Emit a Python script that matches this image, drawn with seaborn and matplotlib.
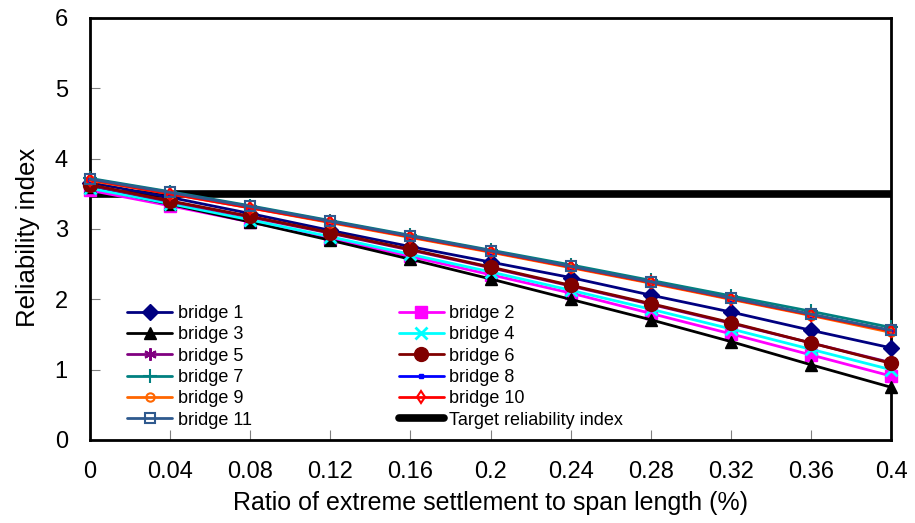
import matplotlib
matplotlib.use("Agg")
import matplotlib.pyplot as plt
import seaborn as sns
import pandas as pd

# ---- data ----
ratio = [0, 0.04, 0.08, 0.12, 0.16, 0.2, 0.24, 0.28, 0.32, 0.36, 0.4]
bridge_1 = [3.66, 3.45, 3.22, 2.98, 2.75, 2.53, 2.31, 2.06, 1.82, 1.56, 1.31]
bridge_2 = [3.55, 3.33, 3.10, 2.86, 2.61, 2.35, 2.09, 1.80, 1.51, 1.21, 0.91]
bridge_3 = [3.60, 3.35, 3.10, 2.84, 2.57, 2.29, 2.00, 1.71, 1.40, 1.07, 0.75]
bridge_4 = [3.58, 3.36, 3.13, 2.89, 2.64, 2.39, 2.13, 1.86, 1.58, 1.29, 1.00]
bridge_5 = [3.62, 3.39, 3.17, 2.94, 2.70, 2.45, 2.19, 1.93, 1.66, 1.38, 1.10]
bridge_6 = [3.63, 3.40, 3.18, 2.95, 2.71, 2.46, 2.20, 1.94, 1.67, 1.38, 1.09]
bridge_7 = [3.72, 3.53, 3.33, 3.12, 2.91, 2.70, 2.49, 2.27, 2.05, 1.83, 1.60]
bridge_8 = [3.70, 3.51, 3.31, 3.10, 2.89, 2.68, 2.46, 2.24, 2.01, 1.78, 1.55]
bridge_9 = [3.69, 3.50, 3.30, 3.09, 2.88, 2.67, 2.45, 2.23, 2.00, 1.77, 1.53]
bridge_10 = [3.70, 3.50, 3.30, 3.10, 2.89, 2.68, 2.46, 2.24, 2.01, 1.78, 1.55]
bridge_11 = [3.71, 3.52, 3.32, 3.11, 2.90, 2.69, 2.47, 2.25, 2.02, 1.79, 1.56]
target_index = 3.5

series_names = [f"bridge {i}" for i in range(1, 12)]
series_values = [bridge_1, bridge_2, bridge_3, bridge_4, bridge_5, bridge_6,
                 bridge_7, bridge_8, bridge_9, bridge_10, bridge_11]
x_ticks = [0, 0.04, 0.08, 0.12, 0.16, 0.2, 0.24, 0.28, 0.32, 0.36, 0.4]
x_tick_labels = ["0", "0.04", "0.08", "0.12", "0.16", "0.2", "0.24", "0.28", "0.32", "0.36", "0.4"]
y_ticks = [0, 1, 2, 3, 4, 5, 6]

# ---- styles ----
styles = [
    dict(color="#000080", marker="D", ms=8, mfc="#000080"),
    dict(color="#FF00FF", marker="s", ms=9, mfc="#FF00FF"),
    dict(color="#000000", marker="^", ms=8, mfc="#000000"),
    dict(color="#00FFFF", marker="x", ms=9, mew=2),
    dict(color="#800080", marker=(6, 2, 0), ms=9, mew=1.5),
    dict(color="#800000", marker="o", ms=10, mfc="#800000"),
    dict(color="#008080", marker="+", ms=10, mew=1.5),
    dict(color="#0000FF", marker="s", ms=3.5, mfc="#0000FF"),
    dict(color="#FF6600", marker="o", ms=6, mfc="none", mew=1.5),
    dict(color="#FF0000", marker="d", ms=6, mfc="none", mew=1.5),
    dict(color="#2F5A8E", marker="s", ms=7, mfc="none", mew=1.5),
]

sns.set_style("white")
plt.rcParams["font.family"] = ["Liberation Sans", "DejaVu Sans"]
plt.rcParams["text.color"] = "black"
plt.rcParams["axes.labelcolor"] = "black"
plt.rcParams["xtick.labelcolor"] = "black"
plt.rcParams["ytick.labelcolor"] = "black"

fig = plt.figure(figsize=(9.15, 5.23), dpi=100)
ax = fig.add_axes([90 / 915, 1 - 440 / 523, 801 / 915, 422 / 523])

# target line
tdf = pd.DataFrame({"x": ratio, "y": [target_index] * len(ratio)})
sns.lineplot(data=tdf, x="x", y="y", ax=ax, color="black", linewidth=5.5,
             label="Target reliability index", zorder=2)

for name, vals, st in zip(series_names, series_values, styles):
    df = pd.DataFrame({"x": ratio, "y": vals})
    sns.lineplot(data=df, x="x", y="y", ax=ax, color=st["color"], linewidth=2,
                 marker=st["marker"], markersize=st["ms"],
                 markerfacecolor=st.get("mfc", st["color"]),
                 markeredgecolor=st["color"], markeredgewidth=st.get("mew", 1),
                 label=name, clip_on=False, zorder=3)

if ax.get_legend() is not None:
    ax.get_legend().remove()

ax.set_xlim(0, 0.4)
ax.set_ylim(0, 6)
ax.set_xticks(x_ticks)
ax.set_xticklabels(x_tick_labels)
ax.set_yticks(y_ticks)
ax.tick_params(axis="both", direction="in", length=7, width=0.8, color="#808080",
               labelsize=17, labelcolor="black", left=True, bottom=True)
ax.tick_params(axis="x", pad=15)
ax.tick_params(axis="y", pad=16)
for sp in ax.spines.values():
    sp.set_color("black")
    sp.set_linewidth(2)

ax.set_xlabel("Ratio of extreme settlement to span length (%)", fontsize=18, color="black")
ax.set_ylabel("Reliability index", fontsize=18.5, color="black")
ax.xaxis.set_label_coords(0.5, -0.122)
ax.yaxis.set_label_coords(-0.063, 0.481)

h, l = ax.get_legend_handles_labels()
lab2h = dict(zip(l, h))
order = ["bridge 1", "bridge 3", "bridge 5", "bridge 7", "bridge 9", "bridge 11",
         "bridge 2", "bridge 4", "bridge 6", "bridge 8", "bridge 10", "Target reliability index"]
leg = fig.legend([lab2h[k] for k in order], order, ncol=2, loc="upper left",
                 bbox_to_anchor=(127 / 915, 1 - 305 / 523), frameon=False,
                 fontsize=13, handlelength=2.5, handletextpad=0.3,
                 labelspacing=0.24, columnspacing=8.15, borderpad=0, borderaxespad=0)
for t in leg.get_texts():
    t.set_color("black")

fig.savefig("out.png", dpi=100, facecolor="white")
